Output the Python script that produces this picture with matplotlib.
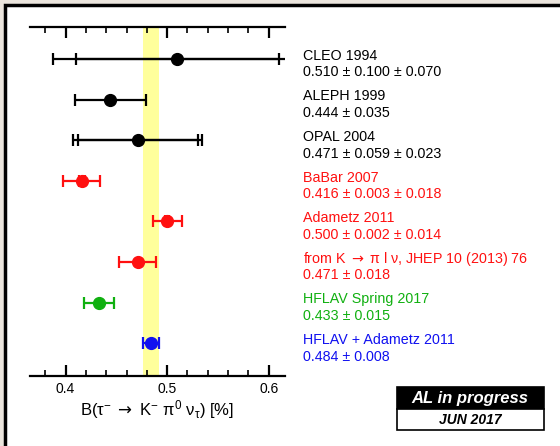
# -*- coding: utf-8 -*-
import numpy as np
import matplotlib
matplotlib.use('Agg')
import matplotlib.pyplot as plt
from matplotlib.patches import Rectangle
from matplotlib.ticker import MultipleLocator

plt.rcParams['font.family'] = ['Liberation Sans', 'DejaVu Sans']
plt.rcParams['mathtext.fontset'] = 'custom'
plt.rcParams['mathtext.rm'] = 'Liberation Sans'
plt.rcParams['mathtext.it'] = 'Liberation Sans:italic'
plt.rcParams['mathtext.sf'] = 'DejaVu Sans'

# measurements of B(tau -> K pi0 nu) in %
names = ['CLEO 1994', 'ALEPH 1999', 'OPAL 2004', 'BaBar 2007', 'Adametz 2011',
         r'from K $\mathsf{\rightarrow}$ $\mathregular{\pi}$ l $\mathregular{\nu}$, JHEP 10 (2013) 76',
         'HFLAV Spring 2017', 'HFLAV + Adametz 2011']
values = [0.510, 0.444, 0.471, 0.416, 0.500, 0.471, 0.433, 0.484]
stat_err = [0.100, 0.035, 0.059, 0.003, 0.002, 0.018, 0.015, 0.008]
syst_err = [0.070, 0.0, 0.023, 0.018, 0.014, 0.0, 0.0, 0.0]
colors = ['black', 'black', 'black', '#ff1010', '#ff1010', '#ff1010', '#10b010', '#1010f0']

avg_value = 0.484
avg_err = 0.008

W, H = 560, 446
fig = plt.figure(figsize=(W / 100, H / 100), dpi=100, facecolor='#ebe5dd')

# white page with black border at top/left
fig.patches.append(Rectangle((5 / W, -0.2), 1.2, 1.2 - 5 / H, transform=fig.transFigure,
                             facecolor='white', edgecolor='black', linewidth=2.5, zorder=-10))

ax = fig.add_axes([30 / W, 1 - 376 / H, 255 / W, 349 / H])
ax.set_facecolor('none')

n = len(values)
ypos = np.arange(n)
tr = matplotlib.transforms.blended_transform_factory(fig.transFigure, ax.transData)

ax.axvspan(avg_value - avg_err, avg_value + avg_err, color='#ffff9c', zorder=1, lw=0)

for i in range(n):
    tot = np.hypot(stat_err[i], syst_err[i])
    ax.errorbar(values[i], ypos[i], xerr=tot, fmt='none', ecolor=colors[i],
                elinewidth=1.6, capsize=4.5, capthick=1.6, zorder=3)
    if syst_err[i] > 0:
        ax.errorbar(values[i], ypos[i], xerr=stat_err[i], fmt='none', ecolor=colors[i],
                    elinewidth=1.6, capsize=4.5, capthick=1.6, zorder=3)
    ax.plot(values[i], ypos[i], 'o', color=colors[i], markersize=8.5, zorder=4)

    if syst_err[i] > 0:
        txt = '%.3f \u00b1 %.3f \u00b1 %.3f' % (values[i], stat_err[i], syst_err[i])
    else:
        txt = '%.3f \u00b1 %.3f' % (values[i], stat_err[i])
    ax.text(303 / W, ypos[i] - 0.08, names[i], transform=tr, color=colors[i],
            fontsize=10.3, va='center', ha='left', clip_on=False)
    ax.text(303 / W, ypos[i] + 0.33, txt, transform=tr, color=colors[i],
            fontsize=10.3, va='center', ha='left', clip_on=False)

ax.set_xlim(0.365, 0.616)
ax.set_ylim(n - 0.19, -0.79)
ax.set_yticks([])
ax.spines['left'].set_visible(False)
ax.spines['right'].set_visible(False)
for s in ('top', 'bottom'):
    ax.spines[s].set_linewidth(1.6)
    ax.spines[s].set_zorder(5)

ax.xaxis.set_major_locator(MultipleLocator(0.1))
ax.xaxis.set_minor_locator(MultipleLocator(0.02))
ax.xaxis.set_major_formatter(matplotlib.ticker.FormatStrFormatter('%.1f'))
ax.tick_params(axis='x', which='both', direction='in', top=True, bottom=True)
ax.tick_params(axis='x', which='major', length=8, width=1.6, labelsize=10, pad=4.5)
ax.tick_params(axis='x', which='minor', length=4, width=1.2)
ax.set_xlabel(r'B($\mathregular{\tau^{-}}$ $\mathsf{\rightarrow}$ '
              r'$\mathregular{K^{-}\ \pi^{0}\ \nu_{\tau}}$) [%]',
              fontsize=12, labelpad=1)

# "in progress" stamp
fig.patches.append(Rectangle((397 / W, 1 - 409 / H), 147 / W, 22 / H, transform=fig.transFigure,
                             facecolor='black', edgecolor='black', linewidth=1.2, zorder=5))
fig.patches.append(Rectangle((397 / W, 1 - 430 / H), 147 / W, 21 / H, transform=fig.transFigure,
                             facecolor='white', edgecolor='black', linewidth=1.2, zorder=5))
fig.text(470 / W, 1 - 398 / H, 'AL in progress', color='white', fontsize=12,
         fontweight='bold', fontstyle='italic', ha='center', va='center', zorder=6)
fig.text(470 / W, 1 - 419.5 / H, 'JUN 2017', color='black', fontsize=10,
         fontweight='bold', fontstyle='italic', ha='center', va='center', zorder=6)

fig.savefig('out.png', dpi=100, facecolor=fig.get_facecolor())
